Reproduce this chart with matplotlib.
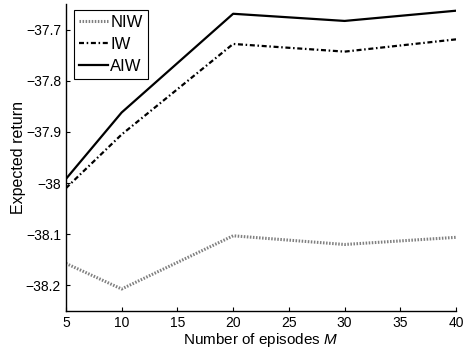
import numpy as np
import matplotlib
matplotlib.use('Agg')
import matplotlib.pyplot as plt

plt.rcParams['font.family'] = ['Liberation Sans', 'DejaVu Sans']
plt.rcParams['mathtext.fontset'] = 'custom'
plt.rcParams['mathtext.it'] = 'Liberation Sans:italic'
plt.rcParams['mathtext.rm'] = 'Liberation Sans'

# data
episodes = [5, 10, 20, 30, 40]
niw = [-38.157, -38.207, -38.103, -38.120, -38.106]
iw = [-38.010, -37.905, -37.728, -37.743, -37.719]
aiw = [-37.992, -37.862, -37.669, -37.683, -37.663]
xticks = [5, 10, 15, 20, 25, 30, 35, 40]
yticks = [-38.2, -38.1, -38.0, -37.9, -37.8, -37.7]
ytick_labels = ['\u221238.2', '\u221238.1', '\u221238', '\u221237.9', '\u221237.8', '\u221237.7']

fig = plt.figure(figsize=(4.64, 3.52), dpi=100)
ax = fig.add_axes([0.142, 0.1165, 0.841, 0.872])

ax.plot(episodes, niw, color='0.5', linestyle=(0, (0.5, 0.5)), linewidth=2.2, label='NIW')
ax.plot(episodes, iw, color='black', linestyle=(0, (2.25, 1.2, 0.7, 1.2)), linewidth=1.6, label='IW')
ax.plot(episodes, aiw, color='black', linestyle='-', linewidth=1.6, label='AIW')

ax.set_xlim(5, 40)
ax.set_ylim(-38.25, -37.65)
ax.set_xticks(xticks)
ax.set_yticks(yticks)
ax.set_yticklabels(ytick_labels)
ax.tick_params(direction='in', length=3, labelsize=10, width=0.8)
ax.spines['top'].set_visible(False)
ax.spines['right'].set_visible(False)
ax.spines['left'].set_linewidth(1.0)
ax.spines['bottom'].set_linewidth(1.0)

ax.set_xlabel('Number of episodes $M$', fontsize=11, labelpad=1)
ax.set_ylabel('Expected return', fontsize=11.5, labelpad=0)

leg = ax.legend(loc='upper left', bbox_to_anchor=(0.022, 0.98), borderaxespad=0,
                fontsize=12, handlelength=1.7, handletextpad=0.15, labelspacing=0.4,
                borderpad=0.3, fancybox=False, framealpha=1)
leg.get_frame().set_edgecolor('black')
leg.get_frame().set_linewidth(0.8)

fig.savefig('out.png', dpi=100)
